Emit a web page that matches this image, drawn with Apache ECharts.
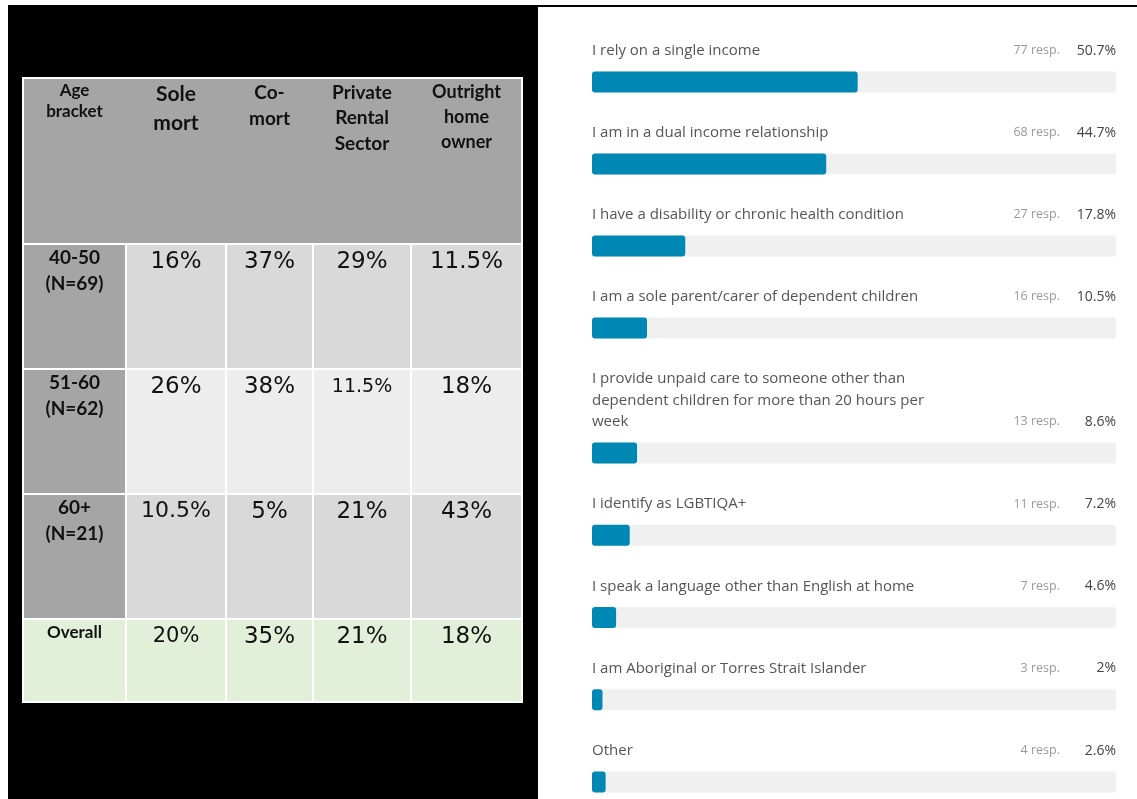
<!doctype html>
<html>
	<head>
		<meta charset="UTF-8">
		<title></title>
		<style>
			html, body { margin: 0; padding: 0; background: #ffffff; }
			#main { width: 1137px; height: 799px; }
		</style>
	</head>
	<body>
		<div id="main"></div>
		<script src="https://cdn.jsdelivr.net/npm/echarts@6/dist/echarts.min.js"></script>
		<script type="text/javascript">
			// table (left)
			var columns = ['Age\nbracket', 'Sole\nmort', 'Co-\nmort', 'Private\nRental\nSector', 'Outright\nhome\nowner'];
			var ageBrackets = ['40-50\n(N=69)', '51-60\n(N=62)', '60+\n(N=21)', 'Overall'];
			var soleMort = [16, 26, 10.5, 20];
			var coMort = [37, 38, 5, 35];
			var privateRental = [29, 11.5, 21, 21];
			var outrightOwner = [11.5, 18, 43, 18];

			// survey bars (right)
			var answers = [
				'I rely on a single income',
				'I am in a dual income relationship',
				'I have a disability or chronic health condition',
				'I am a sole parent/carer of dependent children',
				'I provide unpaid care to someone other than\ndependent children for more than 20 hours per\nweek',
				'I identify as LGBTIQA+',
				'I speak a language other than English at home',
				'I am Aboriginal or Torres Strait Islander',
				'Other'
			];
			var responses = [77, 68, 27, 16, 13, 11, 7, 3, 4];
			var percents = [50.7, 44.7, 17.8, 10.5, 8.6, 7.2, 4.6, 2, 2.6];

			// table layout (px)
			var colWidths = [103, 100, 87, 98, 111];
			var rowHeights = [166, 125, 125, 125, 83];
			var headerFont = [[17, 21], [21, 29], [19, 26], [19, 25.5], [18, 25]];
			var valueFontOverride = { '2,3': 19, '3,1': 22, '4,1': 21, '4,2': 23 };
			var bodyFills = ['#d9d9d9', '#ededed', '#d9d9d9', '#e2efd9'];

			function edges(sizes, i) {
				var s = 0;
				for (var k = 0; k < i; k++) s += sizes[k];
				return [s, s + sizes[i]];
			}
			function sum(a) { return a.reduce(function (x, y) { return x + y; }, 0); }

			var valueCols = [soleMort, coMort, privateRental, outrightOwner];
			var tableCells = [];
			columns.forEach(function (c, ci) {
				tableCells.push({ value: [ci, 0], text: c });
			});
			ageBrackets.forEach(function (a, ri) {
				tableCells.push({ value: [0, ri + 1], text: a });
				valueCols.forEach(function (arr, ci) {
					tableCells.push({ value: [ci + 1, ri + 1], text: arr[ri] + '%' });
				});
			});

			function renderCell(params, api) {
				var col = api.value(0), row = api.value(1);
				var cell = tableCells[params.dataIndex];
				var xs = edges(colWidths, col), ys = edges(rowHeights, row);
				var p0 = api.coord([xs[0], ys[0]]);
				var p1 = api.coord([xs[1], ys[1]]);
				var inL = (row === 0 && col > 0) ? -1 : 1;
				var inR = (row === 0 && col < colWidths.length - 1) ? -1 : 1;
				var fill;
				if (row === 0) fill = '#a5a5a5';
				else if (row === 4) fill = '#e2efd9';
				else if (col === 0) fill = '#a5a5a5';
				else fill = bodyFills[row - 1];

				var cx = (p0[0] + p1[0]) / 2;
				var textStyle;
				if (row === 0) {
					textStyle = {
						text: cell.text, x: cx, y: p0[1] + 2,
						fontFamily: 'Lato', fontWeight: 'bold',
						fontSize: headerFont[col][0], lineHeight: headerFont[col][1],
						fill: '#111111', align: 'center', verticalAlign: 'top'
					};
				} else if (col === 0) {
					textStyle = {
						text: cell.text, x: cx, y: p0[1] + 1,
						fontFamily: 'Lato', fontWeight: 'bold',
						fontSize: row === 4 ? 17 : 19, lineHeight: 26,
						fill: '#111111', align: 'center', verticalAlign: 'top'
					};
				} else {
					var fs = valueFontOverride[row + ',' + col] || 23;
					textStyle = {
						text: cell.text, x: cx, y: p0[1] + 18 - fs * 0.62,
						fontFamily: 'DejaVu Sans', fontSize: fs, lineHeight: fs * 1.2,
						fill: '#111111', align: 'center', verticalAlign: 'top'
					};
				}
				return {
					type: 'group',
					children: [
						{
							type: 'rect',
							shape: { x: p0[0] + inL, y: p0[1] + 1, width: p1[0] - p0[0] - inL - inR, height: p1[1] - p0[1] - 2 },
							style: { fill: fill }
						},
						{ type: 'text', style: textStyle }
					]
				};
			}

			function barSeries(axis, from, to) {
				var idx = [];
				for (var i = from; i < to; i++) idx.push(i);
				return [
					{
						type: 'bar', xAxisIndex: axis, yAxisIndex: axis,
						barWidth: 21, barGap: '-100%', silent: true,
						itemStyle: { color: '#f0f0f0', borderRadius: 3 },
						data: idx.map(function () { return 100; }),
						label: {
							show: true, position: [0, -10], align: 'left', verticalAlign: 'bottom',
							fontFamily: 'Open Sans', fontSize: 15, lineHeight: 21.5, color: '#555555',
							formatter: function (p) { return answers[from + p.dataIndex]; }
						}
					},
					{
						type: 'bar', xAxisIndex: axis, yAxisIndex: axis,
						barWidth: 21, barGap: '-100%', silent: true,
						itemStyle: { color: 'rgba(0,0,0,0)' },
						data: idx.map(function () { return 100; }),
						label: {
							show: true, position: ['100%', -10], align: 'right', verticalAlign: 'bottom',
							formatter: function (p) {
								var i = from + p.dataIndex;
								return '{r|' + responses[i] + ' resp.}{p|' + percents[i] + '%}';
							},
							rich: {
								r: { fontFamily: 'Open Sans', fontSize: 12.5, color: '#999999', lineHeight: 21.5 },
								p: { fontFamily: 'Open Sans', fontSize: 14, color: '#444444', lineHeight: 21.5, width: 56, align: 'right' }
							}
						}
					},
					{
						type: 'bar', xAxisIndex: axis, yAxisIndex: axis,
						barWidth: 21, barGap: '-100%', silent: true,
						itemStyle: { color: '#0088b4', borderRadius: 3 },
						data: idx.map(function (i) { return percents[i]; })
					}
				];
			}

			var chart = echarts.init(document.getElementById('main'));
			var tableW = sum(colWidths), tableH = sum(rowHeights);
			var option = {
				animation: false,
				backgroundColor: '#ffffff',
				graphic: [
					{ type: 'rect', z: -10, shape: { x: 8, y: 5, width: 530, height: 794 }, style: { fill: '#000000' } },
					{ type: 'rect', z: -10, shape: { x: 538, y: 5, width: 599, height: 2 }, style: { fill: '#000000' } }
				],
				grid: [
					{ left: 22, top: 77, width: tableW + 2, height: tableH + 2, show: true, backgroundColor: '#ffffff', borderWidth: 0 },
					{ left: 592, top: 82, width: 524, height: 246 },
					{ left: 592, top: 453, width: 524, height: 329 }
				],
				xAxis: [
					{ type: 'value', gridIndex: 0, min: -1, max: tableW + 1, show: false },
					{ type: 'value', gridIndex: 1, min: 0, max: 100, show: false },
					{ type: 'value', gridIndex: 2, min: 0, max: 100, show: false }
				],
				yAxis: [
					{ type: 'value', gridIndex: 0, min: -1, max: tableH + 1, inverse: true, show: false },
					{ type: 'category', gridIndex: 1, inverse: true, boundaryGap: false, show: false, data: answers.slice(0, 4) },
					{ type: 'category', gridIndex: 2, inverse: true, boundaryGap: false, show: false, data: answers.slice(4) }
				],
				series: [
					{
						type: 'custom', xAxisIndex: 0, yAxisIndex: 0, silent: true,
						renderItem: renderCell,
						data: tableCells
					}
				].concat(barSeries(1, 0, 4), barSeries(2, 4, 9))
			};
			chart.setOption(option);
		</script>
	</body>
</html>
